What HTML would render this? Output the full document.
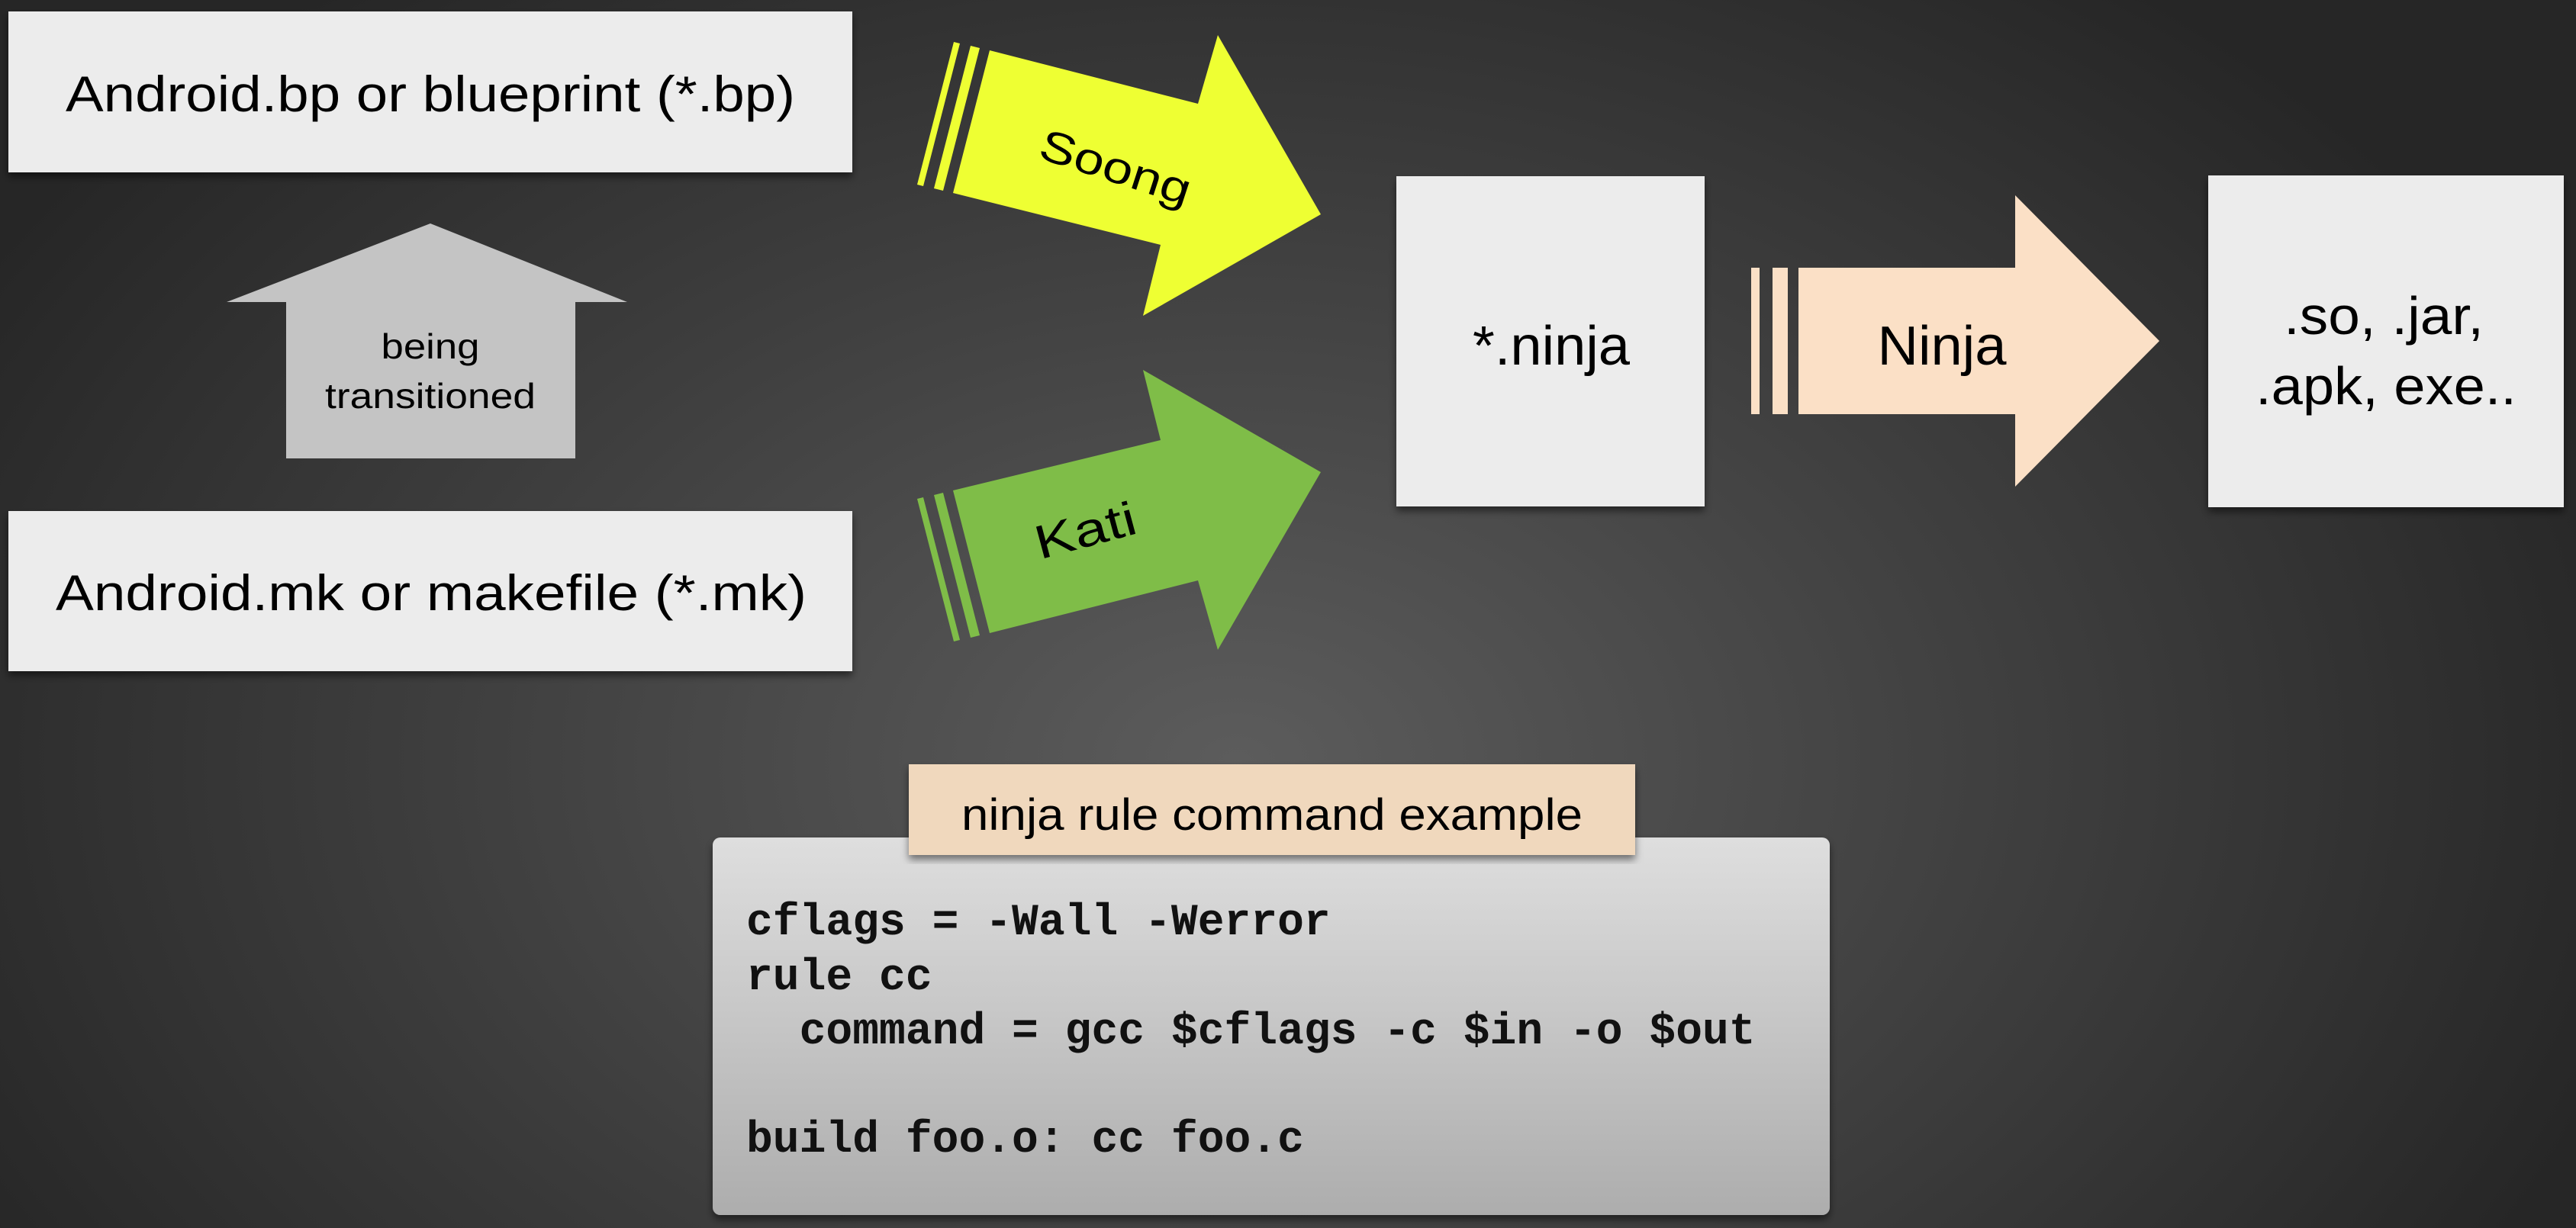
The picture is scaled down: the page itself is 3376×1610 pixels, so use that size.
<!DOCTYPE html>
<html><head><meta charset="utf-8"><style>
html,body{margin:0;padding:0}
body{width:3376px;height:1610px;overflow:hidden;background:radial-gradient(ellipse 1900px 1300px at 48% 62%,#5c5c5c 0%,#3e3e3e 55%,#262626 100%);}
svg{position:absolute;left:0;top:0}
</style></head><body>
<svg width="3376" height="1610" viewBox="0 0 3376 1610" xmlns="http://www.w3.org/2000/svg" font-family="Liberation Sans, sans-serif">
<defs>
<filter id="sh" x="-5%" y="-5%" width="110%" height="115%"><feDropShadow dx="0" dy="6" stdDeviation="5" flood-color="#000" flood-opacity="0.5"/></filter>
<linearGradient id="cg" x1="0" y1="0" x2="0" y2="1"><stop offset="0" stop-color="#dedede"/><stop offset="1" stop-color="#adadad"/></linearGradient>
</defs>
<rect x="11" y="15" width="1106" height="211" fill="#ececec" filter="url(#sh)"/>
<text x="564" y="146" font-size="66" text-anchor="middle" textLength="956" lengthAdjust="spacingAndGlyphs">Android.bp or blueprint (*.bp)</text>
<rect x="11" y="670" width="1106" height="210" fill="#ececec" filter="url(#sh)"/>
<text x="565" y="800" font-size="66" text-anchor="middle" textLength="984" lengthAdjust="spacingAndGlyphs">Android.mk or makefile (*.mk)</text>
<polygon points="564,293 822,396 754,396 754,601 375,601 375,396 297,396" fill="#c4c4c4"/>
<text x="564" y="470" font-size="46" text-anchor="middle" textLength="129" lengthAdjust="spacingAndGlyphs">being</text>
<text x="564" y="535" font-size="46" text-anchor="middle" textLength="276" lengthAdjust="spacingAndGlyphs">transitioned</text>
<polygon points="1297,66 1570,136 1596,46 1731,281 1498,414 1521,321 1249,253" fill="#eeff33"/>
<polygon points="1272,60 1284,63 1236,250 1224,247" fill="#eeff33"/>
<polygon points="1250,55 1258,57 1210,244 1202,242" fill="#eeff33"/>
<text transform="translate(1456,238) rotate(18)" font-size="58" text-anchor="middle" textLength="205" lengthAdjust="spacingAndGlyphs">Soong</text>
<polygon points="1249,643 1521,577 1498,485 1731,619 1596,852 1570,761 1297,830" fill="#7fbd48"/>
<polygon points="1224,649 1236,646 1284,833 1272,836" fill="#7fbd48"/>
<polygon points="1202,654 1210,652 1258,839 1250,841" fill="#7fbd48"/>
<text transform="translate(1428,716) rotate(-15)" font-size="62" text-anchor="middle" textLength="135" lengthAdjust="spacingAndGlyphs">Kati</text>
<rect x="1830" y="231" width="404" height="433" fill="#ececec" filter="url(#sh)"/>
<text x="2033" y="478" font-size="72" text-anchor="middle" textLength="206" lengthAdjust="spacingAndGlyphs">*.ninja</text>
<polygon points="2357,351 2641,351 2641,256 2830,447 2641,638 2641,543 2357,543" fill="#fbe0c6"/>
<rect x="2295" y="351" width="11" height="192" fill="#fbe0c6"/>
<rect x="2323" y="351" width="20" height="192" fill="#fbe0c6"/>
<text x="2545" y="478" font-size="72" text-anchor="middle" textLength="169" lengthAdjust="spacingAndGlyphs">Ninja</text>
<rect x="2894" y="230" width="466" height="435" fill="#ececec" filter="url(#sh)"/>
<text x="2993" y="438" font-size="70" textLength="262" lengthAdjust="spacingAndGlyphs">.so, .jar,</text>
<text x="2956" y="530" font-size="70" textLength="342" lengthAdjust="spacingAndGlyphs">.apk, exe..</text>
<rect x="934" y="1098" width="1464" height="495" rx="10" fill="url(#cg)" filter="url(#sh)"/>
<rect x="1191" y="1002" width="952" height="119" fill="#f0d8bd" filter="url(#sh)"/>
<text x="1667" y="1088" font-size="58" text-anchor="middle" textLength="814" lengthAdjust="spacingAndGlyphs">ninja rule command example</text>
<g font-family="Liberation Mono, monospace" font-weight="bold" font-size="58" fill="#111">
<text x="978" y="1225">cflags = -Wall -Werror</text>
<text x="978" y="1297">rule cc</text>
<text x="978" y="1368" xml:space="preserve">  command = gcc $cflags -c $in -o $out</text>
<text x="978" y="1510">build foo.o: cc foo.c</text>
</g>
</svg>
</body></html>
